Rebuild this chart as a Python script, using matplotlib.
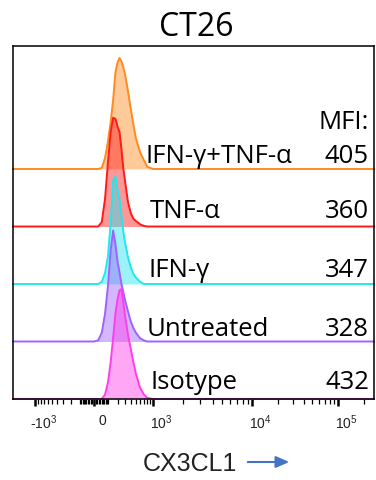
import matplotlib
matplotlib.use('Agg')
import matplotlib.pyplot as plt
import numpy as np
from matplotlib.scale import FuncScale
from matplotlib.ticker import FixedLocator, FixedFormatter
from matplotlib.transforms import blended_transform_factory, ScaledTranslation

plt.rcParams['mathtext.fontset'] = 'custom'
plt.rcParams['mathtext.rm'] = 'Liberation Sans'
plt.rcParams['mathtext.it'] = 'Liberation Sans'

# CX3CL1 fluorescence values at which the histograms were read
cx3cl1 = [-1670, -150, -100, -50, 0, 25, 50, 75, 100, 125, 150, 175, 200, 225, 250,
          275, 300, 350, 400, 450, 500, 600, 700, 800, 1000, 1200, 2.6e5]

# % of mode
isotype = [0, 0, 0, 0, 0, 0, 0, 4, 15, 33, 55, 77, 90, 98, 99,
           88, 76, 58, 45, 33, 23, 10, 4, 1, 0, 0, 0]
untreated = [0, 0, 0, 0, 0, 1, 8, 25, 50, 82, 100, 88, 72, 62, 52,
             45, 38, 27, 18, 12, 8, 3, 1, 0, 0, 0, 0]
ifn_g = [0, 0, 0, 0, 0, 0, 2, 10, 25, 55, 93, 97, 85, 76, 62,
         48, 38, 24, 15, 9, 6, 2, 0, 0, 0, 0, 0]
tnf_a = [0, 0, 0, 0, 0, 0, 4, 25, 58, 85, 98, 97, 90, 85, 70,
         53, 42, 22, 12, 7, 5, 2, 0.5, 0, 0, 0, 0]
ifn_tnf = [0, 0, 0, 0, 0, 0, 1, 10, 25, 42, 62, 87, 96, 100, 97,
           92, 86, 70, 54, 40, 28, 15, 8, 2, 0, 0, 0]

samples = ['Isotype', 'Untreated', 'IFN-γ', 'TNF-α', 'IFN-γ+TNF-α']
mfi = [432, 328, 347, 360, 405]
hists = [isotype, untreated, ifn_g, tnf_a, ifn_tnf]
colors = ['#FF3DEB', '#A062FF', '#22E6F0', '#FF1A1A', '#FF8A1F']

# biexponential-like display scale
LIN_C = 180.0
LIN_K = 72.2
DEC_LOG = [3, 4, 5, 6]
DEC_POS = [59, 158, 244, 330]


def biex_fwd(x):
    x = np.asarray(x, dtype=float)
    a = np.abs(x)
    near = LIN_K * np.log10(1 + a / LIN_C)
    far = np.interp(np.log10(np.maximum(a, 1e-9)), DEC_LOG, DEC_POS)
    return np.sign(x) * np.where(a <= 1000, near, far)


def biex_inv(y):
    y = np.asarray(y, dtype=float)
    b = np.abs(y)
    near = LIN_C * (10 ** (np.minimum(b, 400) / LIN_K) - 1)
    far = 10 ** np.interp(b, DEC_POS, DEC_LOG)
    return np.sign(y) * np.where(b <= DEC_POS[0], near, far)


fig = plt.figure(figsize=(3.76, 4.81), dpi=100)
ax = fig.add_axes([13 / 376, 81 / 481, 361 / 376, 353 / 481])
ax.set_xscale(FuncScale(ax.xaxis, (biex_fwd, biex_inv)))

peak = 1.93  # row units of one mode-normalised histogram
for i in range(len(samples) - 1, -1, -1):
    base = i
    h = np.array(hists[i]) / 100 * peak + base
    z = 10 - i * 2
    ax.fill_between(cx3cl1, base, h, color=colors[i], alpha=0.45, lw=0, zorder=z)
    ax.plot(cx3cl1, h, color=colors[i], lw=1.4, zorder=z + 1, clip_on=False)

ax.set_xlim(-1670, 2.6e5)
ax.set_ylim(0, 353 / 57.5)
ax.set_yticks([])
for s in ax.spines.values():
    s.set_linewidth(1.1)
    s.set_zorder(20)

ax.xaxis.set_major_locator(FixedLocator([-1000, 0, 1000, 1e4, 1e5]))
ax.xaxis.set_major_formatter(FixedFormatter(['-$10^3$', '0', '$10^3$', '$10^4$', '$10^5$']))
minor = ([-v for v in range(100, 1000, 100)] + [-v for v in range(10, 100, 10)]
         + list(range(10, 100, 10)) + list(range(100, 1000, 100))
         + list(range(2000, 10000, 1000)) + list(range(20000, 100000, 10000)) + [2e5])
ax.xaxis.set_minor_locator(FixedLocator(minor))
ax.tick_params(axis='x', which='major', length=5, width=1.8, pad=5,
               labelsize=10, labelcolor='#222222')
ax.tick_params(axis='x', which='minor', length=3.5, width=0.9)
for lab in ax.get_xticklabels():
    lab.set_fontfamily('Liberation Sans')
    lab.set_transform(lab.get_transform() + ScaledTranslation(0.08, 0, fig.dpi_scale_trans))

tr = blended_transform_factory(ax.transAxes, ax.transData)
label_x = [0.380, 0.371, 0.374, 0.380, 0.366]
label_y = [0.31, 1.23, 2.26, 3.27, 4.23]
for i, name in enumerate(samples):
    ax.text(label_x[i], label_y[i], name, transform=tr, fontsize=18.5,
            family='Open Sans', va='center', ha='left', zorder=30)
    ax.text(0.986, label_y[i], str(mfi[i]), transform=tr, fontsize=18.5,
            family='Open Sans', va='center', ha='right', zorder=30)
ax.text(0.986, 4.83, 'MFI:', transform=tr, fontsize=18.5, family='Open Sans',
        va='center', ha='right', zorder=30)

fig.text(196 / 376, 453 / 481, 'CT26', fontsize=23, family='Open Sans',
         ha='center', va='center')
fig.text(190 / 376, 17 / 481, 'CX3CL1', fontsize=18, family='Liberation Sans',
         color='#222222', ha='center', va='center')
ax.annotate('', xy=(292 / 376, 18 / 481), xytext=(245 / 376, 18 / 481),
            xycoords='figure fraction', textcoords='figure fraction',
            arrowprops=dict(arrowstyle='-|>,head_length=0.8,head_width=0.35',
                            color='#4472C4', lw=1.5))

fig.savefig('out.png', dpi=100)
